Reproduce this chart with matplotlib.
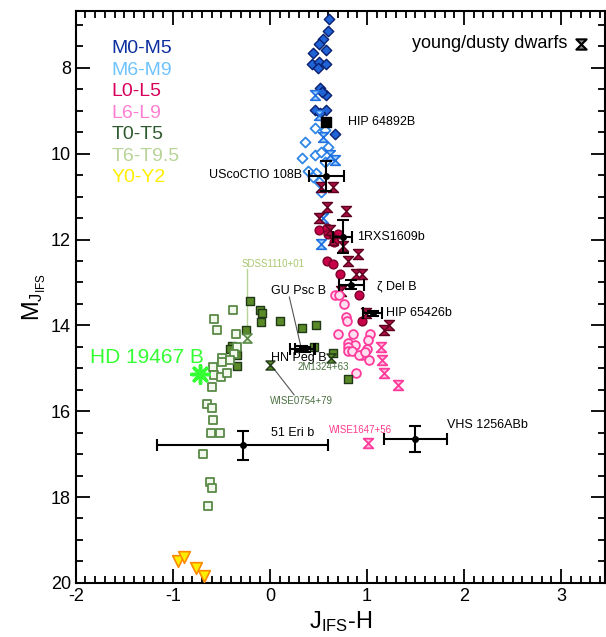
import numpy as np
import matplotlib
matplotlib.use("Agg")
import matplotlib.pyplot as plt
from matplotlib.path import Path
from matplotlib.ticker import MultipleLocator

plt.rcParams['font.family'] = ['Liberation Sans', 'DejaVu Sans']
plt.rcParams['axes.unicode_minus'] = False

# ---- data (J_IFS-H, M_J_IFS) ----
m05_x = [0.61, 0.60, 0.55, 0.51, 0.58, 0.44, 0.43, 0.51, 0.58, 0.50, 0.52, 0.58, 0.54, 0.46, 0.58, 0.67, 0.52]
m05_y = [6.86, 7.14, 7.33, 7.44, 7.58, 7.65, 7.91, 7.86, 7.91, 8.00, 8.47, 8.63, 8.55, 8.98, 8.98, 9.53, 9.05]

m69_x = [0.36, 0.46, 0.33, 0.46, 0.53, 0.39, 0.48, 0.51, 0.53, 0.57, 0.44, 0.60, 0.57]
m69_y = [9.72, 9.40, 10.10, 10.02, 9.95, 10.40, 10.45, 10.65, 10.90, 10.20, 10.55, 9.85, 9.45]
m69y_x = [0.46, 0.51, 0.55, 0.62, 0.67, 0.55, 0.53]
m69y_y = [8.63, 9.10, 9.60, 10.02, 10.14, 11.50, 12.10]

l05_x = [0.51, 0.59, 0.60, 0.70, 0.59, 0.65, 0.72, 0.92, 0.95, 0.66]
l05_y = [11.77, 11.72, 11.88, 11.88, 12.50, 12.56, 12.80, 13.30, 13.90, 12.05]
l05y_x = [0.53, 0.65, 0.59, 0.78, 0.51, 0.62, 0.65, 0.75, 0.80, 0.91, 0.89, 0.95, 0.73, 0.99, 1.18, 1.23]
l05y_y = [10.77, 10.77, 11.23, 11.33, 11.50, 11.77, 12.00, 12.16, 12.50, 12.33, 12.80, 12.80, 13.20, 13.70, 14.10, 14.00]

l69_x = [0.67, 0.71, 0.76, 0.78, 0.79, 0.70, 0.86, 1.03, 1.01, 0.80, 0.88, 0.80, 0.80, 0.85, 0.95, 1.00, 0.92, 1.02, 0.89, 0.98]
l69_y = [13.30, 13.30, 13.50, 13.80, 13.90, 14.20, 14.20, 14.20, 14.35, 14.40, 14.45, 14.50, 14.60, 14.60, 14.70, 14.55, 14.70, 14.80, 15.10, 14.62]
l69y_x = [1.14, 1.15, 1.18, 1.32, 1.01]
l69y_y = [14.50, 14.80, 15.10, 15.40, 16.75]

t05_x = [-0.20, -0.10, -0.08, -0.09, 0.10, 0.33, -0.25, -0.39, -0.41, -0.34, -0.34, 0.48, 0.45, 0.65, 0.80]
t05_y = [13.44, 13.63, 13.70, 13.93, 13.90, 14.05, 14.10, 14.47, 14.55, 14.70, 14.95, 14.00, 14.50, 14.65, 15.25]
t05y_x = [0.00, 0.63]
t05y_y = [14.93, 14.77]

t69_x = [-0.38, -0.58, -0.54, -0.35, -0.34, -0.37, -0.49, -0.49, -0.41, -0.59, -0.58, -0.50, -0.44, -0.60,
         -0.65, -0.60, -0.59, -0.61, -0.51, -0.69, -0.62, -0.60, -0.64]
t69_y = [13.63, 13.86, 14.10, 14.20, 14.50, 14.67, 14.77, 14.86, 14.80, 14.98, 15.16, 15.20, 15.10, 15.44,
         15.84, 15.93, 16.20, 16.50, 16.50, 17.00, 17.65, 17.80, 18.20]
t69y_x = [-0.24]
t69y_y = [14.30]

y02_x = [-0.95, -0.88, -0.76, -0.68]
y02_y = [19.50, 19.40, 19.65, 19.85]

# companions with error bars: name, x, xerr, y, yerr
comp_names = ["UScoCTIO 108B", "1RXS1609b", "ζ Del B", "HIP 65426b", "GU Psc B", "HN Peg B", "51 Eri b", "VHS 1256ABb"]
comp_x = [0.58, 0.75, 0.84, 1.06, 0.33, 0.36, -0.28, 1.50]
comp_xerr = [0.18, 0.10, 0.13, 0.10, 0.12, 0.10, 0.88, 0.32]
comp_y = [10.53, 11.93, 13.05, 13.72, 14.54, 14.56, 16.79, 16.65]
comp_yerr = [0.35, 0.38, 0.10, 0.05, 0.05, 0.05, 0.34, 0.30]

hip64892_x, hip64892_y = 0.58, 9.25
hd_x, hd_y, hd_xerr = -0.72, 15.14, 0.06

legend_labels = ["M0-M5", "M6-M9", "L0-L5", "L6-L9", "T0-T5", "T6-T9.5", "Y0-Y2"]
legend_colors = ["#0c2f9e", "#6ec3ff", "#d8005a", "#ff80d2", "#2f5a2f", "#b8d498", "#ffee00"]

# hourglass marker
hg = Path([(-1, 1), (1, 1), (0, 0), (1, -1), (-1, -1), (0, 0), (-1, 1)],
          [Path.MOVETO, Path.LINETO, Path.LINETO, Path.LINETO, Path.LINETO, Path.LINETO, Path.CLOSEPOLY])

fig = plt.figure(figsize=(6.06, 6.37), dpi=100)
ax = fig.add_axes([0.125, 0.085, 0.873, 0.898])

ax.scatter(m05_x, m05_y, marker='D', s=28, facecolor='#1f63d6', edgecolor='#0a1f6e', lw=1.0, zorder=3)
ax.scatter(m69_x, m69_y, marker='D', s=26, facecolor='white', edgecolor='#2f86e6', lw=1.3, zorder=3)
ax.scatter(m69y_x, m69y_y, marker=hg, s=48, facecolor='#9dd0ff', edgecolor='#2070e0', lw=1.2, zorder=3)
ax.scatter(l05_x, l05_y, marker='o', s=40, facecolor='#c8004a', edgecolor='#7a0028', lw=1.0, zorder=3)
ax.scatter(l05y_x, l05y_y, marker=hg, s=52, facecolor='#a8103f', edgecolor='#600020', lw=1.0, zorder=3)
ax.scatter(l69_x, l69_y, marker='o', s=40, facecolor='#ffe0f0', edgecolor='#ff3c9c', lw=1.3, zorder=3)
ax.scatter(l69y_x, l69y_y, marker=hg, s=48, facecolor='#ffc0e0', edgecolor='#ff3c9c', lw=1.3, zorder=3)
ax.scatter(t05_x, t05_y, marker='s', s=38, facecolor='#5a8a28', edgecolor='#203818', lw=1.0, zorder=3)
ax.scatter(t05y_x, t05y_y, marker=hg, s=42, facecolor='#5a8a28', edgecolor='#203818', lw=1.0, zorder=3)
ax.scatter(t69_x, t69_y, marker='s', s=38, facecolor='#f2f8ec', edgecolor='#5a8a48', lw=1.3, zorder=3)
ax.scatter(t69y_x, t69y_y, marker=hg, s=42, facecolor='#c8e0b0', edgecolor='#5a8a48', lw=1.2, zorder=3)
ax.scatter(y02_x, y02_y, marker='v', s=70, facecolor='#ffee00', edgecolor='#ff8800', lw=1.2, zorder=3)

# companions
for name, x, xe, y, ye in zip(comp_names, comp_x, comp_xerr, comp_y, comp_yerr):
    ax.errorbar(x, y, xerr=xe, yerr=ye, fmt='o', ms=4, color='black', ecolor='black',
                elinewidth=1.5, capsize=4, capthick=1.5, zorder=5)
ax.scatter([hip64892_x], [hip64892_y], marker='s', s=45, color='black', zorder=5)
ax.errorbar(hd_x, hd_y, xerr=hd_xerr, fmt='none', ecolor='#33ff33', elinewidth=2, capsize=0, zorder=6)
ax.scatter([hd_x], [hd_y], marker=(8, 2, 0), s=160, color='#33ff33', lw=2.5, zorder=6)

# annotations
ax.text(hip64892_x + 0.22, hip64892_y, "HIP 64892B", fontsize=9, va='center')
ax.text(0.33, 10.5, "UScoCTIO 108B", fontsize=9, va='center', ha='right')
ax.text(0.90, 11.93, "1RXS1609b", fontsize=9, va='center')
ax.text(1.10, 13.1, "ζ Del B", fontsize=9, va='center')
ax.text(1.20, 13.72, "HIP 65426b", fontsize=9, va='center')
ax.text(0.01, 13.2, "GU Psc B", fontsize=9, va='center')
ax.text(0.01, 14.75, "HN Peg B", fontsize=9, va='center')
ax.text(0.01, 16.51, "51 Eri b", fontsize=9, va='center')
ax.text(1.82, 16.33, "VHS 1256ABb", fontsize=9, va='center')
ax.text(0.29, 14.98, "2M1324+63", fontsize=7, va='center', color='#4a7040')
ax.text(0.32, 15.77, "WISE0754+79", fontsize=7, va='center', ha='center', color='#4a7040')
ax.text(0.03, 12.56, "SDSS1110+01", fontsize=7, va='center', ha='center', color='#a8c870')
ax.text(0.93, 16.44, "WISE1647+56", fontsize=7, va='center', ha='center', color='#ff3c8c')
ax.text(-0.68, 14.75, "HD 19467 B", fontsize=15, va='center', ha='right', color='#33ff33')
ax.plot([0.20, 0.32], [13.34, 14.5], color='#555555', lw=0.8, zorder=2)
ax.plot([0.02, 0.25], [14.95, 15.62], color='#555555', lw=0.8, zorder=2)
ax.plot([-0.24, -0.24], [12.68, 14.2], color='#b8d498', lw=1.0, zorder=2)

ax.text(3.06, 7.42, "young/dusty dwarfs", fontsize=13, va='center', ha='right')
ax.scatter([3.2], [7.45], marker=hg, s=55, facecolor='#888888', edgecolor='black', lw=1.5)

for i, (lab, c) in enumerate(zip(legend_labels, legend_colors)):
    ax.text(0.068, 0.934 - i * 0.0377, lab, color=c, fontsize=14, va='center', transform=ax.transAxes)

ax.set_xlim(-2, 3.45)
ax.set_ylim(20, 6.67)
ax.xaxis.set_major_locator(MultipleLocator(1))
ax.xaxis.set_minor_locator(MultipleLocator(0.1))
ax.yaxis.set_major_locator(MultipleLocator(2))
ax.yaxis.set_minor_locator(MultipleLocator(0.5))
ax.tick_params(which='both', direction='in', top=True, right=True, labelsize=13, width=1.3)
ax.tick_params(which='major', length=10)
ax.tick_params(which='minor', length=5)
for s in ax.spines.values():
    s.set_linewidth(1.5)
ax.set_xlabel(r'$\mathregular{J_{IFS}}$-H', fontsize=17, labelpad=3)
ax.set_ylabel(r'$\mathregular{M_{J_{IFS}}}$', fontsize=17, labelpad=2)

fig.savefig("out.png", dpi=100)
